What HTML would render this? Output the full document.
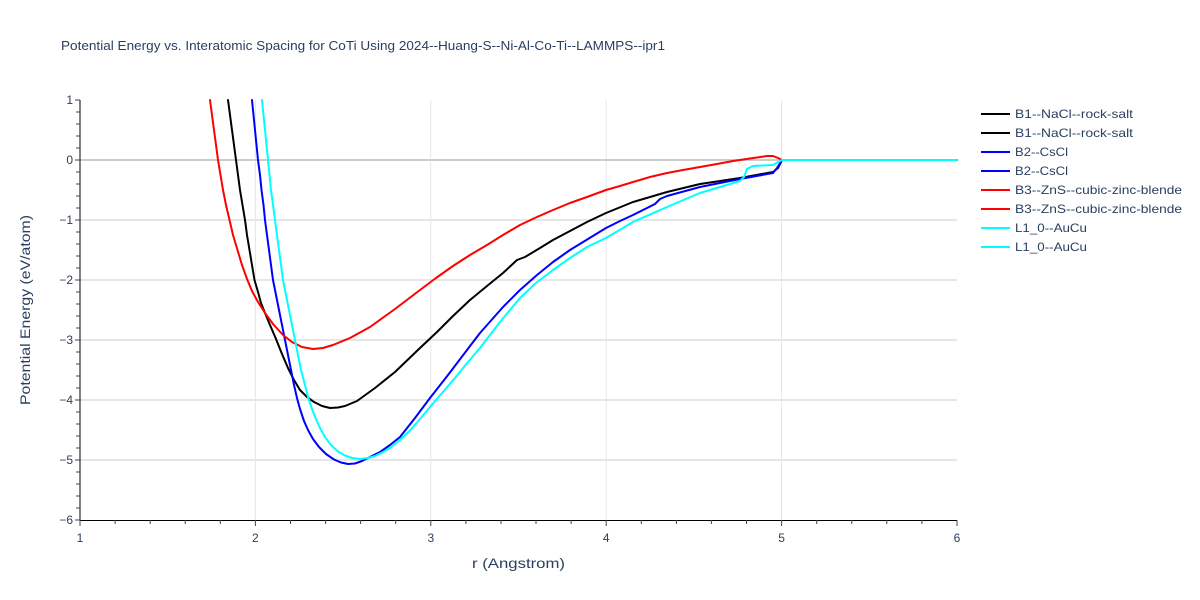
<!DOCTYPE html>
<html>
<head>
<meta charset="utf-8">
<style>
  html, body { margin: 0; padding: 0; background: #fff; }
  svg { display: block; font-family: "Liberation Sans", "DejaVu Sans", sans-serif; }
</style>
</head>
<body>
<svg width="1200" height="600" viewBox="0 0 1200 600" xmlns="http://www.w3.org/2000/svg">
  <rect x="0" y="0" width="1200" height="600" fill="#fff"/>

  <!-- grid -->
  <g stroke="#e6e6e6" stroke-width="1">
    <line x1="255.4" y1="100" x2="255.4" y2="520"/>
    <line x1="430.8" y1="100" x2="430.8" y2="520"/>
    <line x1="606.2" y1="100" x2="606.2" y2="520"/>
    <line x1="781.6" y1="100" x2="781.6" y2="520"/>
  </g>
  <g stroke="#e6e6e6" stroke-width="2">
    <line x1="80" y1="220" x2="957" y2="220"/>
    <line x1="80" y1="280" x2="957" y2="280"/>
    <line x1="80" y1="340" x2="957" y2="340"/>
    <line x1="80" y1="400" x2="957" y2="400"/>
    <line x1="80" y1="460" x2="957" y2="460"/>
  </g>
  <line x1="80" y1="160" x2="957" y2="160" stroke="#cccccc" stroke-width="2"/>

  <!-- series -->
  <g fill="none" stroke-width="2" stroke-linejoin="round" stroke-linecap="round">
    <!-- B1 black -->
    <polyline stroke="#000000" points="228,100 230,115 232,130 234,145 236,160 238,175 240,190 242.5,205 245,220 247,235 249.5,250 252,265 254.5,280 258,292 261,303 265,313 270,325 276,339 282,354 288,368 294,380 300,390 307,397 314,402 322,406 330,408 338,407.5 345,406 357,401 375,388 395,372 420,348 437,332 453,316 470,300 487,286 503,273 517,260 525,257 540,248 553,240 570,231 587,222 606,213 633,202 667,192 700,184 740,178 773,172 778,168 782,160 957,160"/>
    <!-- B2 blue -->
    <polyline stroke="#0000ff" points="252,100 253.5,115 255,130 256.5,145 258,160 260,175 261.5,190 263.5,205 265,220 267,235 269,250 271,265 273,280 276,295 279,310 282,325 285,340 288,355 291,370 294,385 297,398 300,409 304,421 308,430 313,439 319,447 326,454 334,459.5 341,462.5 348,464 355,463.5 362,461 370,457 380,452 390,445 400,437 415,418 430,398 448,375 467,350 480,333 503,307 520,290 537,275 553,262 570,250 588,239 606,228 620,221 633,215 655,204 660,199 667,196 700,187 740,179 773,173 777,168 782,160 957,160"/>
    <!-- B3 red -->
    <polyline stroke="#ff0000" points="210,100 212,115 214,130 216,145 218,160 220.5,175 223,190 226,205 229.5,220 233,235 237.5,250 242,265 247,279 252,291 258,302 265,313 273,324 283,335 292,342 302,347 313,349 323,348 333,345 350,338 370,327 395,309 420,290 436,278 453,266 470,255 487,245 503,235 520,225 537,217 553,210 570,203 587,197 606,190 620,186 633,182 650,177 667,173 683,170 700,167 717,164 733,161 750,158.5 767,156 773,156 778,158 782,160 957,160"/>
    <!-- L1_0 cyan -->
    <polyline stroke="#00ffff" points="262,100 263.5,115 265,130 266.5,145 268,160 269.5,175 271,190 273,205 275,220 277,235 279,250 281,265 283,280 286,295 289,310 292,325 295,340 298,355 301,370 305,385 308,397 312,409 316,419 320,428 325,437 331,445 338,451.5 345,455.5 352,458 360,459 368,458 375,456 383,452 390,448 400,440 410,430.5 420,419 430,407 443,392 455,378 468,362 480,348 500,322 520,298 536,283 553,270 570,258 587,247 606,238 633,222 667,207 700,193 740,181 744,177 747,169 753,166 773,165 780,161 782,160 957,160"/>
  </g>

  <!-- axes -->
  <line x1="80" y1="100" x2="80" y2="520" stroke="#000" stroke-width="1"/>
  <line x1="80" y1="520.5" x2="957" y2="520.5" stroke="#000" stroke-width="1"/>

  <!-- y ticks -->
  <g stroke="#444" stroke-width="1">
    <line x1="75" y1="100" x2="80" y2="100"/>
    <line x1="75" y1="160" x2="80" y2="160"/>
    <line x1="75" y1="220" x2="80" y2="220"/>
    <line x1="75" y1="280" x2="80" y2="280"/>
    <line x1="75" y1="340" x2="80" y2="340"/>
    <line x1="75" y1="400" x2="80" y2="400"/>
    <line x1="75" y1="460" x2="80" y2="460"/>
    <line x1="75" y1="520" x2="80" y2="520"/>
    <line x1="76" y1="112" x2="80" y2="112"/><line x1="76" y1="124" x2="80" y2="124"/><line x1="76" y1="136" x2="80" y2="136"/><line x1="76" y1="148" x2="80" y2="148"/>
    <line x1="76" y1="172" x2="80" y2="172"/><line x1="76" y1="184" x2="80" y2="184"/><line x1="76" y1="196" x2="80" y2="196"/><line x1="76" y1="208" x2="80" y2="208"/>
    <line x1="76" y1="232" x2="80" y2="232"/><line x1="76" y1="244" x2="80" y2="244"/><line x1="76" y1="256" x2="80" y2="256"/><line x1="76" y1="268" x2="80" y2="268"/>
    <line x1="76" y1="292" x2="80" y2="292"/><line x1="76" y1="304" x2="80" y2="304"/><line x1="76" y1="316" x2="80" y2="316"/><line x1="76" y1="328" x2="80" y2="328"/>
    <line x1="76" y1="352" x2="80" y2="352"/><line x1="76" y1="364" x2="80" y2="364"/><line x1="76" y1="376" x2="80" y2="376"/><line x1="76" y1="388" x2="80" y2="388"/>
    <line x1="76" y1="412" x2="80" y2="412"/><line x1="76" y1="424" x2="80" y2="424"/><line x1="76" y1="436" x2="80" y2="436"/><line x1="76" y1="448" x2="80" y2="448"/>
    <line x1="76" y1="472" x2="80" y2="472"/><line x1="76" y1="484" x2="80" y2="484"/><line x1="76" y1="496" x2="80" y2="496"/><line x1="76" y1="508" x2="80" y2="508"/>
  </g>

  <!-- x ticks -->
  <g stroke="#444" stroke-width="1">
    <line x1="80" y1="520" x2="80" y2="526"/>
    <line x1="255.4" y1="520" x2="255.4" y2="526"/>
    <line x1="430.8" y1="520" x2="430.8" y2="526"/>
    <line x1="606.2" y1="520" x2="606.2" y2="526"/>
    <line x1="781.6" y1="520" x2="781.6" y2="526"/>
    <line x1="957" y1="520" x2="957" y2="526"/>
    <line x1="115.1" y1="520" x2="115.1" y2="524"/><line x1="150.2" y1="520" x2="150.2" y2="524"/><line x1="185.2" y1="520" x2="185.2" y2="524"/><line x1="220.3" y1="520" x2="220.3" y2="524"/>
    <line x1="290.5" y1="520" x2="290.5" y2="524"/><line x1="325.6" y1="520" x2="325.6" y2="524"/><line x1="360.6" y1="520" x2="360.6" y2="524"/><line x1="395.7" y1="520" x2="395.7" y2="524"/>
    <line x1="465.9" y1="520" x2="465.9" y2="524"/><line x1="501" y1="520" x2="501" y2="524"/><line x1="536" y1="520" x2="536" y2="524"/><line x1="571.1" y1="520" x2="571.1" y2="524"/>
    <line x1="641.3" y1="520" x2="641.3" y2="524"/><line x1="676.4" y1="520" x2="676.4" y2="524"/><line x1="711.4" y1="520" x2="711.4" y2="524"/><line x1="746.5" y1="520" x2="746.5" y2="524"/>
    <line x1="816.7" y1="520" x2="816.7" y2="524"/><line x1="851.8" y1="520" x2="851.8" y2="524"/><line x1="886.8" y1="520" x2="886.8" y2="524"/><line x1="921.9" y1="520" x2="921.9" y2="524"/>
  </g>

  <!-- y tick labels -->
  <g font-size="12" fill="#2a3f5f" text-anchor="end">
    <text x="73" y="104">1</text>
    <text x="73" y="164">0</text>
    <text x="73" y="224">−1</text>
    <text x="73" y="284">−2</text>
    <text x="73" y="344">−3</text>
    <text x="73" y="404">−4</text>
    <text x="73" y="464">−5</text>
    <text x="73" y="524">−6</text>
  </g>

  <!-- x tick labels -->
  <g font-size="12" fill="#2a3f5f" text-anchor="middle">
    <text x="80" y="542">1</text>
    <text x="255.4" y="542">2</text>
    <text x="430.8" y="542">3</text>
    <text x="606.2" y="542">4</text>
    <text x="781.6" y="542">5</text>
    <text x="957" y="542">6</text>
  </g>

  <!-- axis titles -->
  <text x="472" y="568" font-size="14" fill="#2a3f5f" textLength="93" lengthAdjust="spacingAndGlyphs">r (Angstrom)</text>
  <text transform="translate(30,405) rotate(-90)" font-size="14" fill="#2a3f5f" textLength="190" lengthAdjust="spacingAndGlyphs">Potential Energy (eV/atom)</text>

  <!-- title -->
  <text x="61" y="50" font-size="12.5" fill="#2a3f5f" textLength="604" lengthAdjust="spacingAndGlyphs">Potential Energy vs. Interatomic Spacing for CoTi Using 2024--Huang-S--Ni-Al-Co-Ti--LAMMPS--ipr1</text>

  <!-- legend -->
  <g stroke-width="2">
    <line x1="981" y1="114" x2="1010" y2="114" stroke="#000000"/>
    <line x1="981" y1="133" x2="1010" y2="133" stroke="#000000"/>
    <line x1="981" y1="152" x2="1010" y2="152" stroke="#0000ff"/>
    <line x1="981" y1="171" x2="1010" y2="171" stroke="#0000ff"/>
    <line x1="981" y1="190" x2="1010" y2="190" stroke="#ff0000"/>
    <line x1="981" y1="209" x2="1010" y2="209" stroke="#ff0000"/>
    <line x1="981" y1="228" x2="1010" y2="228" stroke="#00ffff"/>
    <line x1="981" y1="247" x2="1010" y2="247" stroke="#00ffff"/>
  </g>
  <g font-size="12" fill="#2a3f5f" lengthAdjust="spacingAndGlyphs">
    <text x="1015" y="118" textLength="118" lengthAdjust="spacingAndGlyphs">B1--NaCl--rock-salt</text>
    <text x="1015" y="137" textLength="118" lengthAdjust="spacingAndGlyphs">B1--NaCl--rock-salt</text>
    <text x="1015" y="156" textLength="53" lengthAdjust="spacingAndGlyphs">B2--CsCl</text>
    <text x="1015" y="175" textLength="53" lengthAdjust="spacingAndGlyphs">B2--CsCl</text>
    <text x="1015" y="194" textLength="167" lengthAdjust="spacingAndGlyphs">B3--ZnS--cubic-zinc-blende</text>
    <text x="1015" y="213" textLength="167" lengthAdjust="spacingAndGlyphs">B3--ZnS--cubic-zinc-blende</text>
    <text x="1015" y="232" textLength="72" lengthAdjust="spacingAndGlyphs">L1_0--AuCu</text>
    <text x="1015" y="251" textLength="72" lengthAdjust="spacingAndGlyphs">L1_0--AuCu</text>
  </g>
</svg>
</body>
</html>
